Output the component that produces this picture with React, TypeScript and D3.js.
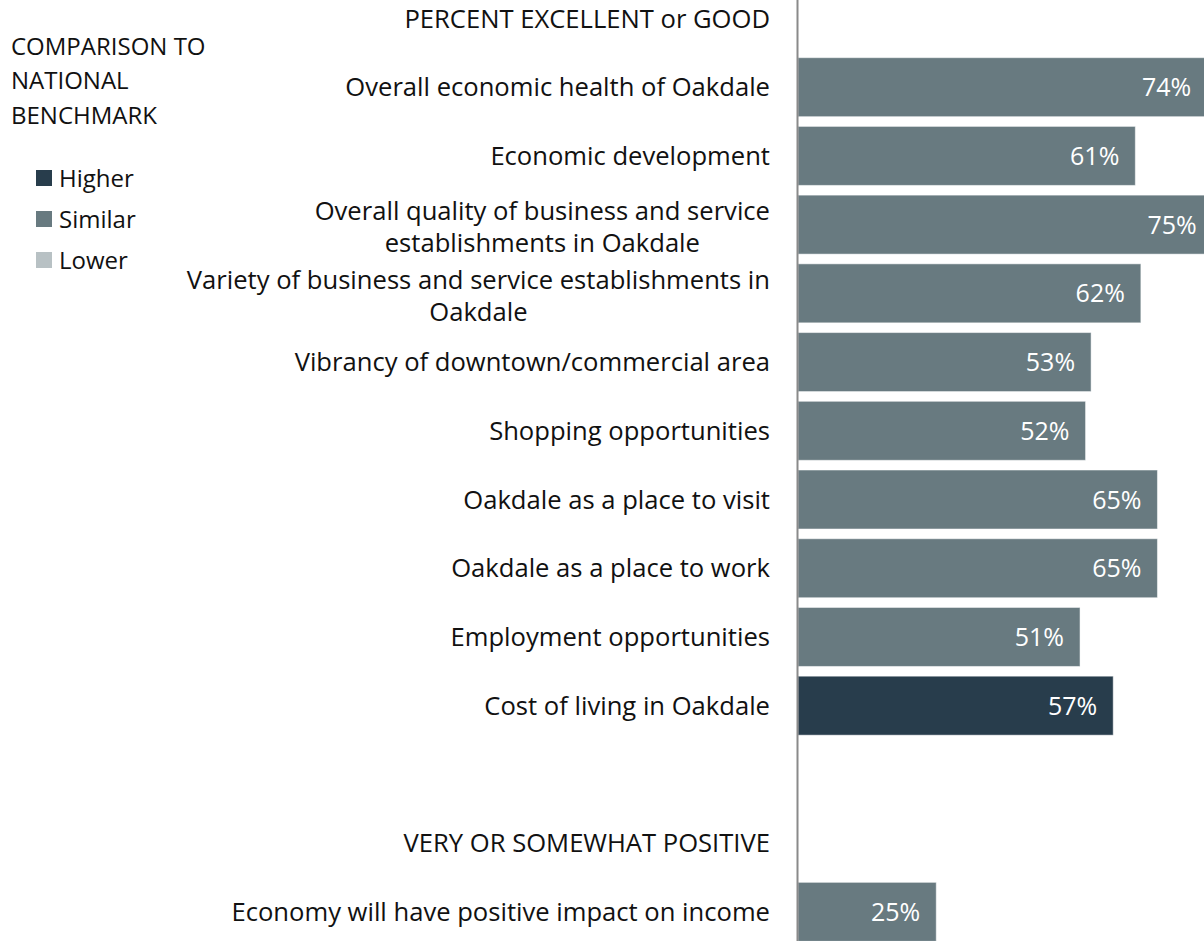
import React, { useEffect, useRef } from "react";
import * as d3 from "d3";

const sectionHeaders = ["PERCENT EXCELLENT or GOOD", "VERY OR SOMEWHAT POSITIVE"];
const categoriesA = [
  "Overall economic health of Oakdale",
  "Economic development",
  "Overall quality of business and service\nestablishments in Oakdale",
  "Variety of business and service establishments in\nOakdale",
  "Vibrancy of downtown/commercial area",
  "Shopping opportunities",
  "Oakdale as a place to visit",
  "Oakdale as a place to work",
  "Employment opportunities",
  "Cost of living in Oakdale",
];
const valuesA = [74, 61, 75, 62, 53, 52, 65, 65, 51, 57];
const comparisonA = ["Similar", "Similar", "Similar", "Similar", "Similar", "Similar", "Similar", "Similar", "Similar", "Higher"];
const categoriesB = ["Economy will have positive impact on income"];
const valuesB = [25];
const comparisonB = ["Similar"];

const legendTitle = ["COMPARISON TO", "NATIONAL", "BENCHMARK"];
const legendLabels = ["Higher", "Similar", "Lower"];
const legendColors = ["#283D4C", "#687A80", "#B8C1C4"];

const FONT = "'Open Sans', sans-serif";

type Row = { kind: "header" | "bar" | "blank"; label: string; value?: number; comp?: string };

export default function App() {
  const ref = useRef<SVGSVGElement | null>(null);

  useEffect(() => {
    const svg = d3.select(ref.current);
    svg.selectAll("*").remove();
    const H = 941;

    const rows: Row[] = [];
    rows.push({ kind: "header", label: sectionHeaders[0] });
    categoriesA.forEach((c, i) => rows.push({ kind: "bar", label: c, value: valuesA[i], comp: comparisonA[i] }));
    rows.push({ kind: "blank", label: "" });
    rows.push({ kind: "header", label: sectionHeaders[1] });
    categoriesB.forEach((c, i) => rows.push({ kind: "bar", label: c, value: valuesB[i], comp: comparisonB[i] }));

    const ids = rows.map((_, i) => String(i));
    const y = d3.scaleBand<string>().domain(ids).range([-15.9, 946.2]).paddingInner(0.1415).paddingOuter(0.0707);
    const x = d3.scaleLinear().domain([0, 100]).range([798, 1351]);
    const color = d3.scaleOrdinal<string, string>().domain(legendLabels).range(legendColors);

    const labelRight = 770;
    const FS = 25.6;

    const barRows = rows.map((r, i) => ({ ...r, id: String(i) })).filter((r) => r.kind === "bar");
    svg.append("g").selectAll("rect").data(barRows).join("rect")
      .attr("x", x(0))
      .attr("y", (d) => y(d.id)!)
      .attr("width", (d) => x(d.value!) - x(0))
      .attr("height", y.bandwidth())
      .attr("fill", (d) => color(d.comp!))
      .attr("stroke", "#ffffff")
      .attr("stroke-opacity", 0.5)
      .attr("stroke-width", 1);

    svg.append("g").selectAll("text").data(barRows).join("text")
      .attr("x", (d) => x(d.value!) - 16)
      .attr("y", (d) => y(d.id)! + y.bandwidth() / 2)
      .attr("dy", "0.36em")
      .attr("text-anchor", "end")
      .attr("fill", "#ffffff")
      .attr("font-family", FONT)
      .attr("font-size", 25)
      .text((d) => `${d.value}%`);

    svg.append("line")
      .attr("x1", 797.5).attr("x2", 797.5).attr("y1", 0).attr("y2", H)
      .attr("stroke", "#8a8a8a").attr("stroke-width", 2);

    const lg = svg.append("g");
    rows.forEach((r, i) => {
      if (r.kind === "blank") return;
      const cy = y(String(i))! + y.bandwidth() / 2;
      const lines = r.label.split("\n");
      const lh = 32;
      const g = lg.append("g");
      const texts = lines.map((ln, k) =>
        g.append("text")
          .attr("y", cy + (k - (lines.length - 1) / 2) * lh + 2 * (lines.length - 1))
          .attr("dy", "0.36em")
          .attr("font-family", FONT)
          .attr("font-size", FS)
          .attr("fill", "#111111")
          .text(ln)
      );
      const widths = texts.map((t) => (t.node() as SVGTextElement).getComputedTextLength());
      const maxW = Math.max(...widths);
      const center = labelRight - maxW / 2;
      texts.forEach((t) => t.attr("x", center).attr("text-anchor", "middle"));
    });

    const leg = svg.append("g");
    legendTitle.forEach((t, i) => {
      leg.append("text").attr("x", 11).attr("y", 46 + i * 34.5).attr("dy", "0.36em")
        .attr("font-family", FONT).attr("font-size", 24).attr("fill", "#111111").text(t);
    });
    legendLabels.forEach((l, i) => {
      const cy = 178 + i * 41;
      leg.append("rect").attr("x", 36).attr("y", cy - 8).attr("width", 16).attr("height", 16).attr("fill", legendColors[i]);
      leg.append("text").attr("x", 59).attr("y", cy).attr("dy", "0.36em")
        .attr("font-family", FONT).attr("font-size", 24).attr("fill", "#111111").text(l);
    });
  }, []);

  return (
    <svg ref={ref} width={1204} height={941}
      style={{ position: "absolute", left: 0, top: 0, background: "#ffffff" }} />
  );
}
